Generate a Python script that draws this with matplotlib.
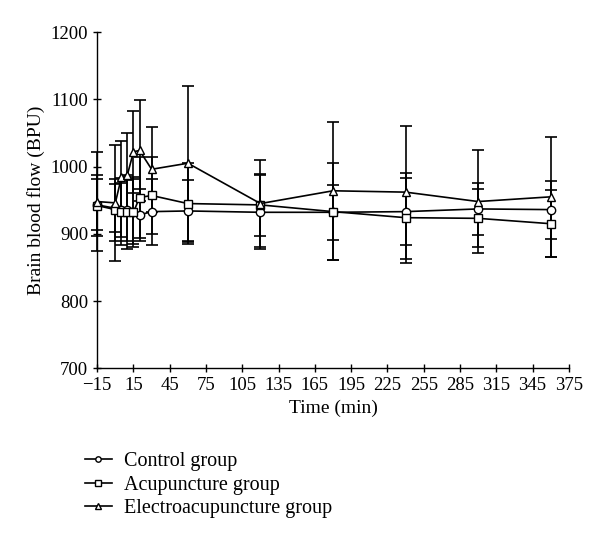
import matplotlib
matplotlib.use('Agg')
import matplotlib.pyplot as plt
import numpy as np

plt.rcParams['font.family'] = ['Liberation Serif', 'DejaVu Serif']

# 时间点 (min)
times = [-15, 0, 5, 10, 15, 20, 30, 60, 120, 180, 240, 300, 360]

# 各组平均值与误差
control = [943, 938, 935, 935, 933, 928, 933, 934, 932, 932, 933, 937, 936]
control_err = [38, 36, 40, 45, 48, 38, 49, 46, 55, 41, 50, 39, 43]

acupuncture = [942, 936, 933, 932, 932, 954, 957, 945, 943, 933, 924, 923, 915]
acupuncture_err = [46, 46, 50, 55, 52, 60, 57, 60, 46, 72, 67, 43, 50]

electro = [948, 946, 984, 988, 1022, 1024, 996, 1005, 945, 964, 962, 948, 955]
electro_err = [73, 86, 54, 62, 61, 75, 63, 115, 65, 103, 99, 77, 89]

labels = ['Control group', 'Acupuncture group', 'Electroacupuncture group']
markers = ['o', 's', '^']
series = [(control, control_err), (acupuncture, acupuncture_err), (electro, electro_err)]

xticks = list(range(-15, 376, 30))
yticks = list(range(700, 1201, 100))

fig = plt.figure(figsize=(6, 5.36), dpi=100)
ax = fig.add_axes([0.162, 0.313, 0.786, 0.627])

handles = []
for (vals, errs), lab, m in zip(series, labels, markers):
    eb = ax.errorbar(times, vals, yerr=errs, fmt='none', ecolor='black',
                     elinewidth=1.2, capsize=4, capthick=1.2, zorder=2)
    for art in eb.lines[1] + eb.lines[2]:
        art.set_clip_on(False)
    h, = ax.plot(times, vals, color='black', linewidth=1.2, marker=m,
                 markersize=6, markerfacecolor='white', markeredgecolor='black',
                 markeredgewidth=1.0, zorder=3, label=lab, clip_on=False)
    handles.append(h)

ax.set_xlim(-15, 375)
ax.set_ylim(700, 1200)
ax.set_xticks(xticks)
ax.set_xticklabels([str(t).replace('-', '\u2212') for t in xticks])
ax.set_yticks(yticks)

for s in ['top', 'right']:
    ax.spines[s].set_visible(False)
for s in ['left', 'bottom']:
    ax.spines[s].set_linewidth(1.0)
ax.tick_params(direction='inout', length=6, width=1.0, labelsize=13.5)

ax.set_xlabel('Time (min)', fontsize=14)
ax.set_ylabel('Brain blood flow (BPU)', fontsize=14)

fig.legend(handles=handles, loc='upper left', bbox_to_anchor=(0.112, 0.19),
           frameon=False, fontsize=14.5, handlelength=1.3, handletextpad=0.6,
           labelspacing=0.22, markerscale=0.65)

fig.savefig('out.png', dpi=100)
